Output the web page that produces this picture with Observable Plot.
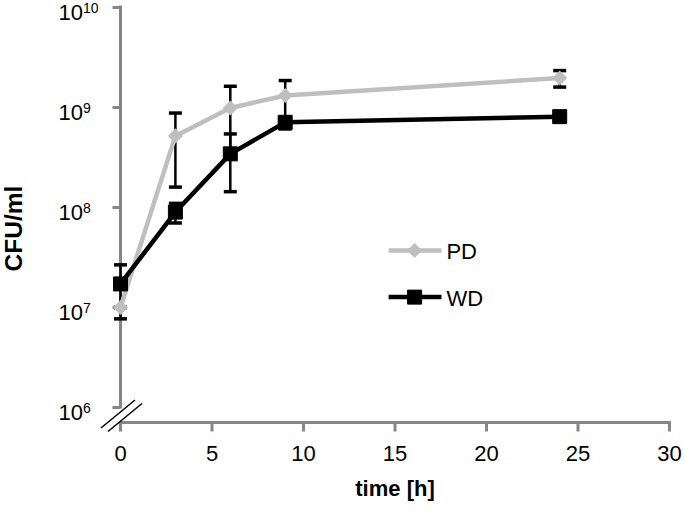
<!DOCTYPE html>
<html><head><meta charset="utf-8">
<script src="https://cdn.jsdelivr.net/npm/d3@7"></script>
<script src="https://cdn.jsdelivr.net/npm/@observablehq/plot@0.6"></script>
<style>body{margin:0;background:#fff}</style>
</head><body><div id="chart"></div>
<script>
// ---- data ----
const times = [0, 3, 6, 9, 24];
const pdValues = [1.0e7, 5.2e8, 9.9e8, 1.32e9, 1.97e9];
const pdErrors = [0, 3.6e8, 6.4e8, 5.4e8, 3.7e8];
const wdValues = [1.72e7, 9.0e7, 3.44e8, 7.1e8, 8.1e8];
const wdErrors = [9.5e6, 2.0e7, 2.0e8, 1.0e8, 5.0e7];
const seriesNames = ["PD", "WD"];
const xTicks = [0, 5, 10, 15, 20, 25, 30];
const yExponents = [6, 7, 8, 9, 10];

// ---- layout / style ----
const W = 685, H = 516;
const grey = "#bfbfbf", axisGrey = "#868686";
const font = "'Liberation Sans', Arial, sans-serif";
const legendPos = {x1: 14.65, x2: 17.54, xMarker: 16.07, xText: 17.81, y: {PD: 3.72e7, WD: 1.27e7}};

const rows = [];
times.forEach((t, i) => {
  rows.push({series: "PD", time: t, value: pdValues[i], error: pdErrors[i]});
  rows.push({series: "WD", time: t, value: wdValues[i], error: wdErrors[i]});
});
const pd = rows.filter(d => d.series === "PD");
const wd = rows.filter(d => d.series === "WD");
const caps = rows.flatMap(d => [{time: d.time, y: d.value + d.error}, {time: d.time, y: d.value - d.error}]);
const yTicks = yExponents.map(e => Math.pow(10, e));
const legendRows = seriesNames.map(s => ({series: s, y: legendPos.y[s]}));

const capSymbol = {draw(ctx) { ctx.moveTo(-6.5, 0); ctx.lineTo(6.5, 0); }};
const yTickSymbol = {draw(ctx) { ctx.moveTo(-8, 0); ctx.lineTo(0, 0); }};
const xTickSymbol = {draw(ctx) { ctx.moveTo(0, 0); ctx.lineTo(0, 9); }};

const chart = Plot.plot({
  width: W, height: H,
  marginLeft: 120, marginRight: 16, marginTop: 7, marginBottom: 94,
  insetBottom: 15,
  style: {fontFamily: font, background: "#fff", color: "#000"},
  x: {domain: [0, 30], axis: null},
  y: {type: "log", domain: [1e6, 1e10], axis: null},
  marks: [
    // axes
    Plot.frame({anchor: "bottom", stroke: axisGrey, strokeWidth: 3}),
    Plot.ruleX([0], {y1: 1e6, y2: 1e10, stroke: axisGrey, strokeWidth: 3, strokeLinecap: "square"}),
    Plot.dot(yTicks, {y: d => d, frameAnchor: "left", symbol: yTickSymbol, stroke: axisGrey, strokeWidth: 3, fill: "none"}),
    Plot.dot(xTicks, {x: d => d, frameAnchor: "bottom", symbol: xTickSymbol, stroke: axisGrey, strokeWidth: 3, fill: "none"}),
    Plot.text(xTicks, {x: d => d, frameAnchor: "bottom", text: d => String(d), textAnchor: "middle", dy: 38.5, fontSize: 22, fill: "#000"}),
    Plot.text(yTicks, {y: d => d, frameAnchor: "left", text: () => "10", textAnchor: "start", dx: -62, dy: 5, fontSize: 22, fill: "#000"}),
    Plot.text(yExponents, {y: e => Math.pow(10, e), frameAnchor: "left", text: e => String(e), textAnchor: "start", dx: -37.5, dy: 1.5, fontSize: 14, fill: "#000"}),
    Plot.text(["time [h]"], {frameAnchor: "bottom", text: d => d, textAnchor: "middle", dy: 73, fontSize: 22, fontWeight: "bold", fill: "#000"}),
    Plot.text(["CFU/ml"], {frameAnchor: "left", text: d => d, textAnchor: "middle", rotate: -90, dx: -106, dy: 13.5, fontSize: 24.5, fontWeight: "bold", fill: "#000"}),
    // error bars
    Plot.ruleX(rows, {x: "time", y1: d => d.value - d.error, y2: d => d.value + d.error, stroke: "#000", strokeWidth: 2.5}),
    Plot.dot(caps, {x: "time", y: "y", symbol: capSymbol, stroke: "#000", strokeWidth: 3.5, fill: "none"}),
    // series
    Plot.line(pd, {x: "time", y: "value", stroke: grey, strokeWidth: 4.5}),
    Plot.dot(pd, {x: "time", y: "value", symbol: "diamond2", r: 6.8, fill: grey, stroke: "none"}),
    Plot.line(wd, {x: "time", y: "value", stroke: "#000", strokeWidth: 4.5}),
    Plot.dot(wd, {x: "time", y: "value", symbol: "square", r: 7.9, fill: "#000", stroke: "#000", strokeWidth: 1, strokeLinejoin: "round"}),
    // legend
    Plot.link(legendRows, {x1: legendPos.x1, x2: legendPos.x2, y1: "y", y2: "y", stroke: d => d.series === "PD" ? grey : "#000", strokeWidth: 4.5}),
    Plot.dot(legendRows.filter(d => d.series === "PD"), {x: legendPos.xMarker, y: "y", symbol: "diamond2", r: 6.8, fill: grey, stroke: "none"}),
    Plot.dot(legendRows.filter(d => d.series === "WD"), {x: legendPos.xMarker, y: "y", symbol: "square", r: 7.9, fill: "#000", stroke: "#000", strokeWidth: 1, strokeLinejoin: "round"}),
    Plot.text(legendRows, {x: legendPos.xText, y: "y", text: "series", textAnchor: "start", dy: 2, fontSize: 22, fill: "#000"})
  ]
});
document.getElementById("chart").appendChild(chart);

// axis break marks, placed relative to the chart's own scales
const sx = chart.scale("x"), sy = chart.scale("y");
const x0 = sx.apply(0), yb = sy.apply(1e6) + 15;
const svg = d3.select(chart);
[[-19, 6, 15, -22], [-12, 9.5, 22, -18.5]].forEach(([a, b, c, d]) => {
  svg.append("line")
    .attr("x1", x0 + a).attr("y1", yb + b).attr("x2", x0 + c).attr("y2", yb + d)
    .attr("stroke", "#000").attr("stroke-width", 1.5);
});
</script>
</body></html>
